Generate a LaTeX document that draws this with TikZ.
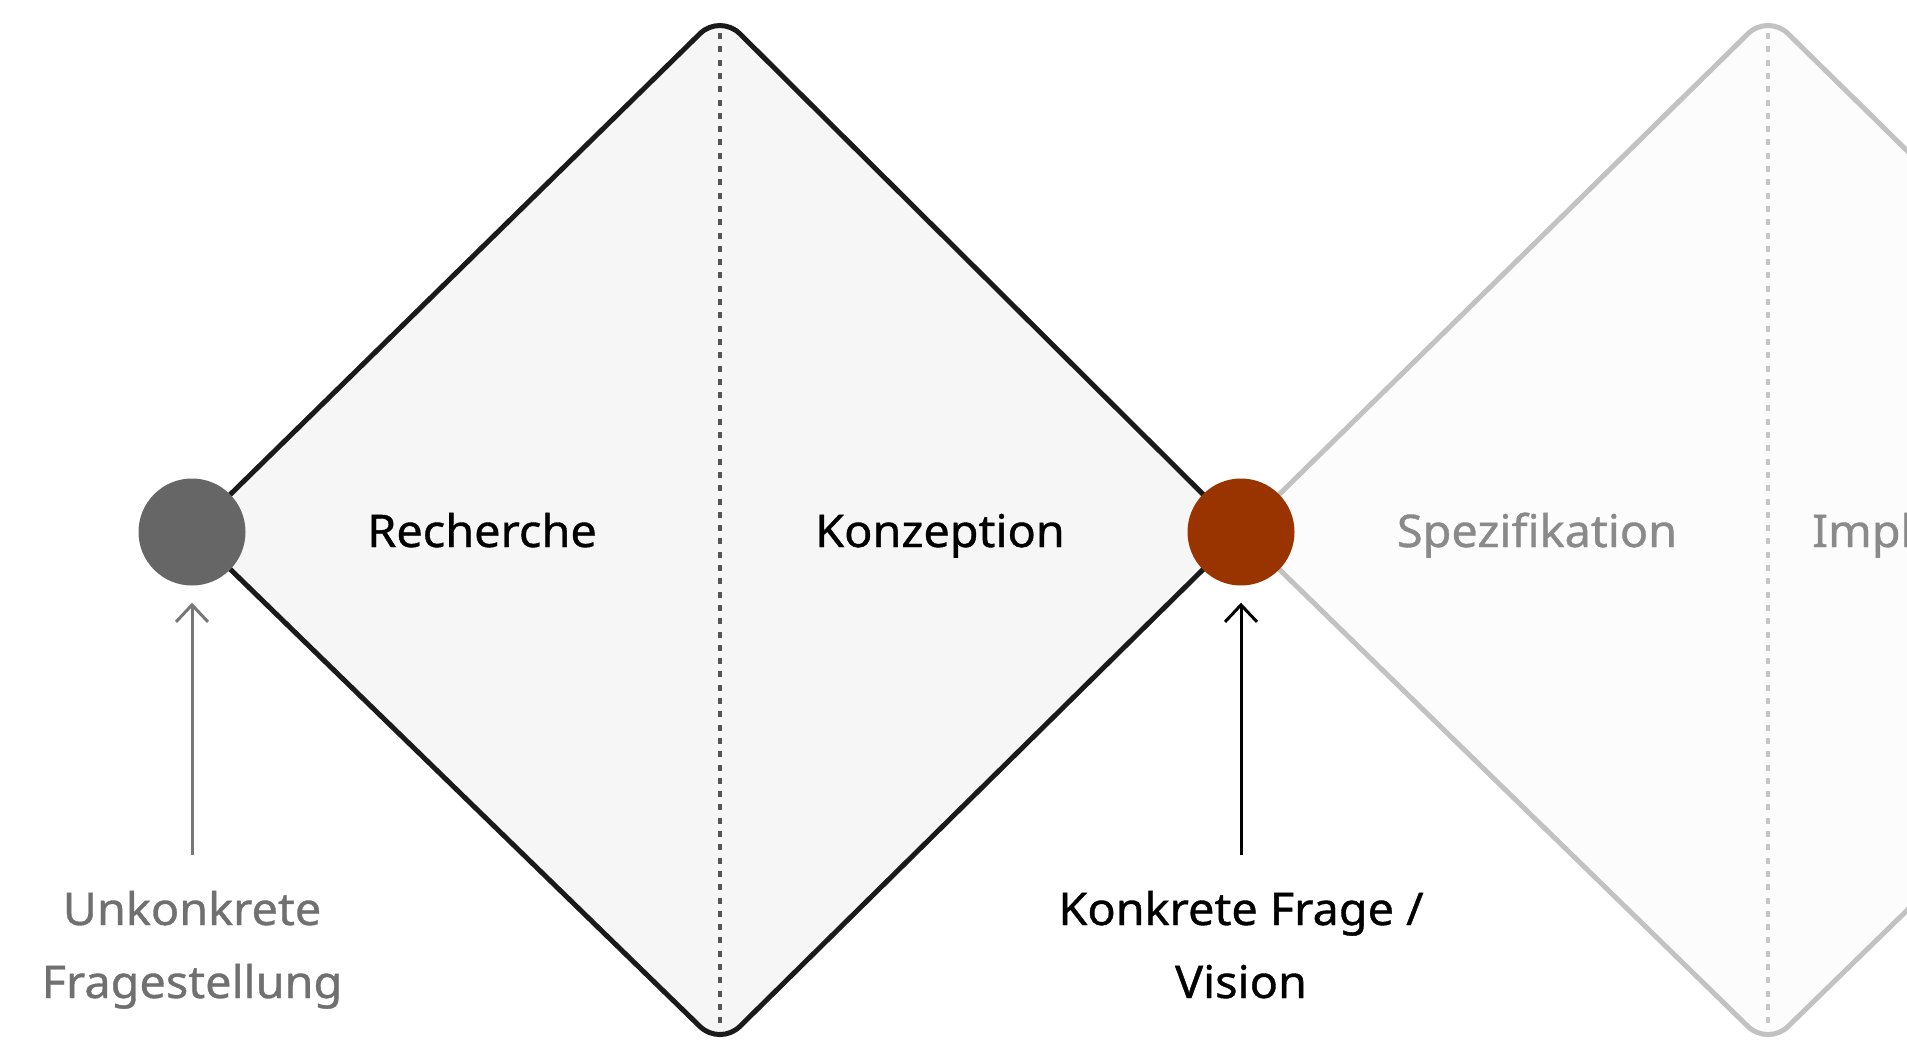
\documentclass[tikz,border=0pt]{standalone}
\usepackage{fontspec}
\setmainfont{Noto Sans}[FakeStretch=1.04, FakeBold=0.8]
\usetikzlibrary{arrows.meta}

\definecolor{inkdark}{HTML}{1A1A1A}
\definecolor{fillone}{HTML}{F6F6F6}
\definecolor{dotone}{HTML}{555555}
\definecolor{inklight}{HTML}{C2C2C2}
\definecolor{filltwo}{HTML}{FCFCFC}
\definecolor{dottwo}{HTML}{C6C6C6}
\definecolor{startgrey}{HTML}{666666}
\definecolor{rust}{HTML}{993300}
\definecolor{labelgrey}{HTML}{707070}
\definecolor{phasegrey}{HTML}{8A8A8A}
\definecolor{arrowgrey}{HTML}{777777}

\tikzset{
  diamondone/.style={draw=inkdark, fill=fillone, line width=5pt, rounded corners=28pt, line join=round},
  diamondtwo/.style={draw=inklight, fill=filltwo, line width=5pt, rounded corners=28pt, line join=round},
  splitline/.style={line width=3.5pt, dash pattern=on 6pt off 7.3pt},
  milestone/.style={circle, inner sep=0pt, minimum size=107pt},
  phase/.style={inner sep=0pt, anchor=base, font=\fontsize{45pt}{54pt}\selectfont},
  question/.style={inner sep=0pt, anchor=base, align=center, font=\fontsize{45pt}{73pt}\selectfont},
  pointer/.style={line width=3pt, -{Straight Barb[length=17pt, width=32pt]}, shorten >=17pt, shorten <=36pt},
}

\begin{document}
\begin{tikzpicture}[x=1pt, y=-1pt]
  \useasboundingbox (0,0) rectangle (1907,1042);
  \clip (0,0) rectangle (1907,1042);

  % second double diamond (faded)
  \draw[diamondtwo] (1241,532) -- (1768,14) -- (2295,532) -- (1768,1046) -- cycle;
  \draw[splitline, draw=dottwo] (1768,33) -- (1768,1030);

  % first double diamond
  \draw[diamondone] (192,532) -- (720,14) -- (1241,532) -- (720,1046) -- cycle;
  \draw[splitline, draw=dotone] (720,33) -- (720,1030);

  % milestones
  \node[milestone, fill=startgrey] (start) at (192,532) {};
  \node[milestone, fill=rust] (vision) at (1241,532) {};

  % phase names
  \node[phase, text=black] (rech) at (482,547) {Recherche};
  \node[phase, text=black] (konz) at (940,547) {Konzeption};
  \node[phase, text=phasegrey] (spez) at (1537,547) {Spezifikation};
  \node[phase, text=phasegrey, anchor=base west] (impl) at (1812,547) {Implementierung};

  % questions below the milestones (base = baseline of the last line)
  \node[question, text=labelgrey] (vague) at (192,998) {Unkonkrete\\Fragestellung};
  \node[question, text=black] (concrete) at (1241,998) {Konkrete Frage /\\Vision};

  \draw[pointer, draw=arrowgrey] (vague.north) -- (start.south);
  \draw[pointer, draw=black] (concrete.north) -- (vision.south);
\end{tikzpicture}
\end{document}
